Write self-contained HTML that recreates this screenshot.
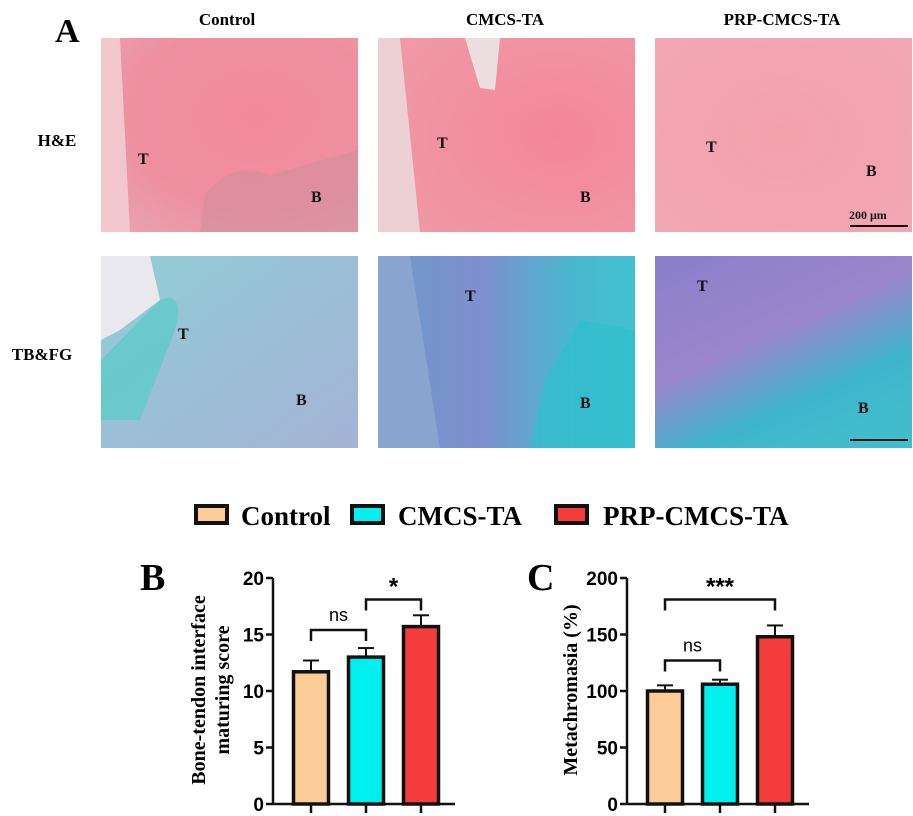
<!DOCTYPE html>
<html><head><meta charset="utf-8"><style>
body{margin:0;background:#fff;}
svg{display:block;font-family:"Liberation Serif",serif;}
</style></head><body>
<svg width="913" height="816" viewBox="0 0 913 816">
<defs>
<radialGradient id="he1" cx="0.6" cy="0.4" r="0.8"><stop offset="0" stop-color="#f28a9c"/><stop offset="0.6" stop-color="#ee8fa0"/><stop offset="1" stop-color="#e8a4b0"/></radialGradient>
<radialGradient id="he2" cx="0.7" cy="0.5" r="0.8"><stop offset="0" stop-color="#f4869a"/><stop offset="1" stop-color="#ef9aa8"/></radialGradient>
<radialGradient id="he3" cx="0.5" cy="0.5" r="0.8"><stop offset="0" stop-color="#f3a0ad"/><stop offset="1" stop-color="#f1a9b4"/></radialGradient>
<linearGradient id="tb1" x1="0" y1="0" x2="1" y2="1"><stop offset="0" stop-color="#8fcfd6"/><stop offset="0.5" stop-color="#9bbfd6"/><stop offset="1" stop-color="#a4b3d6"/></linearGradient>
<linearGradient id="tb2" x1="0" y1="0" x2="1" y2="0"><stop offset="0" stop-color="#6c9ac8"/><stop offset="0.4" stop-color="#7f8ed0"/><stop offset="0.75" stop-color="#4ab7cf"/><stop offset="1" stop-color="#40c2d0"/></linearGradient>
<linearGradient id="tb3" x1="0" y1="0" x2="0.6" y2="1"><stop offset="0" stop-color="#8a7fcb"/><stop offset="0.5" stop-color="#9a86cc"/><stop offset="0.8" stop-color="#3fb4cc"/><stop offset="1" stop-color="#40bccd"/></linearGradient>
</defs>

<text x="55" y="42" font-size="34" font-weight="bold">A</text>
<g font-size="17" font-weight="bold" text-anchor="middle">
<text x="227" y="25">Control</text>
<text x="505" y="25">CMCS-TA</text>
<text x="782" y="25">PRP-CMCS-TA</text>
<text x="57" y="146">H&amp;E</text>
<text x="42" y="360">TB&amp;FG</text>
</g>

<g>
<rect x="101" y="38" width="257" height="194" fill="url(#he1)"/>
<path d="M101 38 L120 38 L130 232 L101 232Z" fill="#f1c6cc"/>
<path d="M205 195 Q230 160 270 175 L358 150 L358 232 L200 232Z" fill="#c98f9c" opacity="0.45"/>
</g>
<g>
<rect x="378" y="38" width="257" height="194" fill="url(#he2)"/>
<path d="M378 38 L400 38 L420 232 L378 232Z" fill="#ecd0d3"/>
<path d="M465 38 L500 38 L495 90 L480 88Z" fill="#ecdedf"/>
</g>
<g>
<rect x="655" y="38" width="257" height="194" fill="url(#he3)"/>
</g>
<g font-size="16" font-weight="bold" fill="#111">
<text x="138" y="164">T</text><text x="311" y="202">B</text>
<text x="437" y="148">T</text><text x="580" y="202">B</text>
<text x="706" y="152">T</text><text x="866" y="176">B</text>
<text x="849" y="219" font-size="12">200 μm</text><text x="850" y="434" font-size="12">200 μm</text>
</g>
<line x1="850" y1="226" x2="908" y2="226" stroke="#111" stroke-width="2"/>

<g>
<rect x="101" y="256" width="257" height="192" fill="url(#tb1)"/>
<path d="M101 256 L150 256 L160 300 L120 330 L101 340Z" fill="#e8e8ee"/>
<path d="M160 300 Q185 290 175 330 L140 420 L101 420 L101 360Z" fill="#5fc9c8" opacity="0.8"/>
</g>
<g>
<rect x="378" y="256" width="257" height="192" fill="url(#tb2)"/>
<path d="M378 256 L410 256 L440 448 L378 448Z" fill="#8fa8cf" opacity="0.8"/>
<path d="M580 320 L635 330 L635 448 L530 448 L545 380Z" fill="#2fbfcc" opacity="0.7"/>
</g>
<g>
<rect x="655" y="256" width="257" height="192" fill="url(#tb3)"/>
</g>
<g font-size="16" font-weight="bold" fill="#111">
<text x="178" y="339">T</text><text x="296" y="405">B</text>
<text x="465" y="301">T</text><text x="580" y="408">B</text>
<text x="697" y="291">T</text><text x="858" y="413">B</text>
</g>
<line x1="850" y1="440" x2="908" y2="440" stroke="#111" stroke-width="2"/>

<g font-size="27" font-weight="bold">
<rect x="196" y="506" width="31" height="17" fill="#fccc98" stroke="#111" stroke-width="4"/>
<text x="241" y="525">Control</text>
<rect x="352" y="506" width="31" height="17" fill="#00f0f0" stroke="#111" stroke-width="4"/>
<text x="398" y="525">CMCS-TA</text>
<rect x="556" y="506" width="31" height="17" fill="#f53c3c" stroke="#111" stroke-width="4"/>
<text x="603" y="525">PRP-CMCS-TA</text>
</g>

<text x="140" y="590" font-size="38" font-weight="bold">B</text>
<text x="527" y="590" font-size="38" font-weight="bold">C</text>
<text transform="translate(205,690) rotate(-90)" text-anchor="middle" font-size="20" font-weight="bold">Bone-tendon interface</text>
<text transform="translate(229,690) rotate(-90)" text-anchor="middle" font-size="20" font-weight="bold">maturing score</text>
<text transform="translate(577,690) rotate(-90)" text-anchor="middle" font-size="20" font-weight="bold">Metachromasia (%)</text>

<g id="chartB"></g>
<g id="chartC"></g>
</svg>
<script>
const categories = ["Control", "CMCS-TA", "PRP-CMCS-TA"];
const colors = ["#fccc98", "#00f0f0", "#f53c3c"];
const scoreMeans = [11.7, 13.0, 15.7];
const scoreErrors = [1.0, 0.8, 1.0];
const scoreTicks = [0, 5, 10, 15, 20];
const metaMeans = [100, 106, 148];
const metaErrors = [5, 4, 10];
const metaTicks = [0, 50, 100, 150, 200];
const sigB = [{a:0,b:1,label:"ns",y:15.4},{a:1,b:2,label:"*",y:18.1}];
const sigC = [{a:0,b:2,label:"***",y:181},{a:0,b:1,label:"ns",y:127}];
const NS = "http://www.w3.org/2000/svg";
function mk(p, tag, at){const e=document.createElementNS(NS,tag);for(const k in at)e.setAttribute(k,at[k]);p.appendChild(e);return e;}
function draw(g, ax, means, errs, ticks, sigs, maxV, prefix){
  const y0=804, y1=578, bw=35, gap=55, start=ax+38;
  const ys=v=>y0-(v/maxV)*(y0-y1);
  const xs=i=>start+i*gap;
  const yl=mk(g,'line',{x1:ax,y1:y1,x2:ax,y2:y0,stroke:'#111','stroke-width':2.5});
  
  
  const xl=mk(g,'line',{x1:ax,y1:y0,x2:ax+182,y2:y0,stroke:'#111','stroke-width':2.5});
  
  
  ticks.forEach(t=>{
    mk(g,'line',{x1:ax-7,y1:ys(t),x2:ax,y2:ys(t),stroke:'#111','stroke-width':2.5});
    const tx=mk(g,'text',{x:ax-9,y:ys(t)+7,'text-anchor':'end','font-size':19,'font-weight':'bold','font-family':'Liberation Sans, sans-serif'});
    tx.textContent=t;
    
    
  });
  means.forEach((m,i)=>{
    const cx=xs(i), top=ys(m), et=ys(m+errs[i]);
    mk(g,'line',{x1:cx,y1:top,x2:cx,y2:et,stroke:'#111','stroke-width':2});
    mk(g,'line',{x1:cx-8,y1:et,x2:cx+8,y2:et,stroke:'#111','stroke-width':2});
    const r=mk(g,'rect',{x:cx-bw/2,y:top,width:bw,height:y0-top,fill:colors[i],stroke:'#111','stroke-width':3.5});
    
    
    mk(g,'line',{x1:cx,y1:y0,x2:cx,y2:y0+9,stroke:'#111','stroke-width':2.5});
  });
  sigs.forEach(s=>{
    const xa=xs(s.a), xb=xs(s.b), yy=ys(s.y);
    const p=mk(g,'path',{d:`M${xa} ${yy+11}V${yy}H${xb}V${yy+11}`,fill:'none',stroke:'#111','stroke-width':2.5});
    
    
    const isStar=s.label.includes('*');
    const t=mk(g,'text',{x:(xa+xb)/2,y:yy-(isStar?5:9),'text-anchor':'middle','font-size':isStar?24:18,'font-weight':isStar?'bold':'normal','font-family':'Liberation Sans, sans-serif'});
    t.textContent=s.label;
    
    
  });
}
draw(document.getElementById('chartB'),273,scoreMeans,scoreErrors,scoreTicks,sigB,20,'chart-b');
draw(document.getElementById('chartC'),627,metaMeans,metaErrors,metaTicks,sigC,200,'chart-c');
</script>
</body></html>
